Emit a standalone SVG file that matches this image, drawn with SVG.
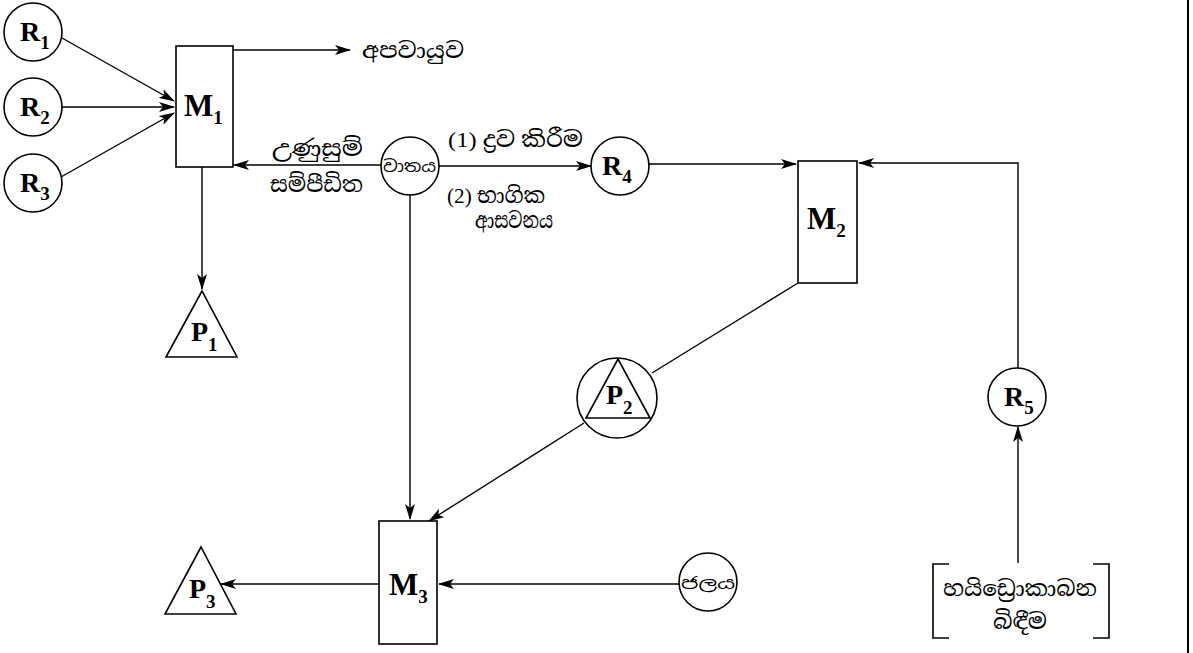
<svg xmlns="http://www.w3.org/2000/svg" width="1193" height="653" viewBox="0 0 1193 653">
<style>
.s{fill:none;stroke:#000;stroke-width:1.6}
.n{fill:#fff;stroke:#000;stroke-width:1.6}
.c{fill:none;stroke:#000;stroke-width:1.4}
.a{marker-end:url(#ah)}
.lbl{font-family:"Liberation Serif","Times New Roman",serif;font-weight:bold;font-size:28px;fill:#000}
.m{font-size:31px}
.sub{font-size:19px}
.si{font-family:"Liberation Serif","Noto Serif Sinhala","Noto Sans Sinhala","Iskoola Pota","Noto Sans",serif;font-size:22px;fill:#000}
.sm{font-family:"Noto Sans Sinhala","Noto Serif Sinhala","Iskoola Pota","Noto Sans",sans-serif;font-size:16px;fill:#000}
</style>
<defs>
<marker id="ah" viewBox="0 0 16 10" refX="15" refY="5" markerWidth="16" markerHeight="10" markerUnits="userSpaceOnUse" orient="auto">
<path d="M0,0 L16,5 L0,10 L4,5 z" fill="#000"/>
</marker>
</defs>
<rect width="1193" height="653" fill="#fff"/>
<g id="connectors">
<line class="c a" x1="62" y1="38" x2="174" y2="101"/>
<line class="c a" x1="62" y1="107" x2="174" y2="107"/>
<line class="c a" x1="61" y1="177" x2="174" y2="113"/>
<line class="c a" x1="233" y1="50" x2="350" y2="50"/>
<line class="c a" x1="381" y1="165" x2="234" y2="165"/>
<line class="c a" x1="439" y1="166" x2="591" y2="166"/>
<line class="c a" x1="649" y1="164" x2="796" y2="164"/>
<line class="c a" x1="202" y1="167" x2="202" y2="289"/>
<line class="c a" x1="410" y1="195" x2="410" y2="519"/>
<line class="c" x1="798" y1="283" x2="652" y2="373"/>
<line class="c a" x1="584" y1="423" x2="429" y2="521"/>
<line class="c a" x1="379" y1="584" x2="221" y2="584"/>
<line class="c a" x1="679" y1="584" x2="439" y2="584"/>
<polyline class="c a" points="1018,368 1018,163 859,163"/>
<line class="c a" x1="1018" y1="563" x2="1018" y2="427"/>
</g>
<g id="R1"><circle class="n" cx="33" cy="32" r="29"/><text class="lbl" x="20" y="41">R<tspan class="sub" dy="8">1</tspan></text></g>
<g id="R2"><circle class="n" cx="33" cy="107" r="29"/><text class="lbl" x="20" y="116">R<tspan class="sub" dy="8">2</tspan></text></g>
<g id="R3"><circle class="n" cx="33" cy="183" r="29"/><text class="lbl" x="20" y="192">R<tspan class="sub" dy="8">3</tspan></text></g>
<g id="M1"><rect class="n" x="176" y="46" width="57" height="121"/><text class="lbl m" x="184" y="116">M<tspan class="sub" dy="8">1</tspan></text></g>
<g id="apavayuva"><text class="si" x="362" y="58" textLength="102" lengthAdjust="spacingAndGlyphs">අපවායුව</text></g>
<g id="vataya"><circle class="n" cx="410" cy="166" r="29"/><text class="sm" x="383" y="172" textLength="53" lengthAdjust="spacingAndGlyphs">වාතය</text></g>
<g id="labels-left"><text class="si" x="272" y="156" textLength="91" lengthAdjust="spacingAndGlyphs">උණුසුම්</text><text class="si" x="270" y="192" textLength="93" lengthAdjust="spacingAndGlyphs">සම්පීඩිත</text></g>
<g id="labels-right"><text class="si" x="448" y="147" textLength="135" lengthAdjust="spacingAndGlyphs">(1) ද්‍රව කිරීම</text><text class="si" x="447" y="203" textLength="98" lengthAdjust="spacingAndGlyphs">(2) භාගික</text><text class="si" x="475" y="228" textLength="78" lengthAdjust="spacingAndGlyphs">ආසවනය</text></g>
<g id="R4"><circle class="n" cx="620" cy="166" r="29"/><text class="lbl" x="602" y="175">R<tspan class="sub" dy="8">4</tspan></text></g>
<g id="M2"><rect class="n" x="798" y="161" width="59" height="122"/><text class="lbl m" x="807" y="229">M<tspan class="sub" dy="8">2</tspan></text></g>
<g id="P1"><polygon class="n" points="202,291 166,357 237,357"/><text class="lbl" x="191" y="341">P<tspan class="sub" dy="10">1</tspan></text></g>
<g id="P2"><circle class="n" cx="617" cy="398" r="40"/><polygon class="n" points="618,359 586,418 650,418"/><text class="lbl" x="606" y="404">P<tspan class="sub" dy="10">2</tspan></text></g>
<g id="M3"><rect class="n" x="379" y="521" width="58" height="123"/><text class="lbl m" x="389" y="595">M<tspan class="sub" dy="8">3</tspan></text></g>
<g id="P3"><polygon class="n" points="201,547 165,614 236,614"/><text class="lbl" x="189" y="598">P<tspan class="sub" dy="10">3</tspan></text></g>
<g id="jalaya"><circle class="n" cx="708" cy="582" r="29"/><text class="sm" x="681" y="589" textLength="54" lengthAdjust="spacingAndGlyphs">ජලය</text></g>
<g id="R5"><circle class="n" cx="1017" cy="397" r="29"/><text class="lbl" x="1004" y="406">R<tspan class="sub" dy="8">5</tspan></text></g>
<g id="hydrocarbon">
<path class="s" d="M949,564 H933 V638 H949"/>
<path class="s" d="M1093,564 H1109 V638 H1093"/>
<text class="si" x="943" y="596" textLength="154" lengthAdjust="spacingAndGlyphs">හයිඩ්‍රොකාබන</text>
<text class="si" x="993" y="629" textLength="54" lengthAdjust="spacingAndGlyphs">බිඳීම</text>
</g>
<line x1="1188" y1="0" x2="1188" y2="653" stroke="#000" stroke-width="2"/>
</svg>
